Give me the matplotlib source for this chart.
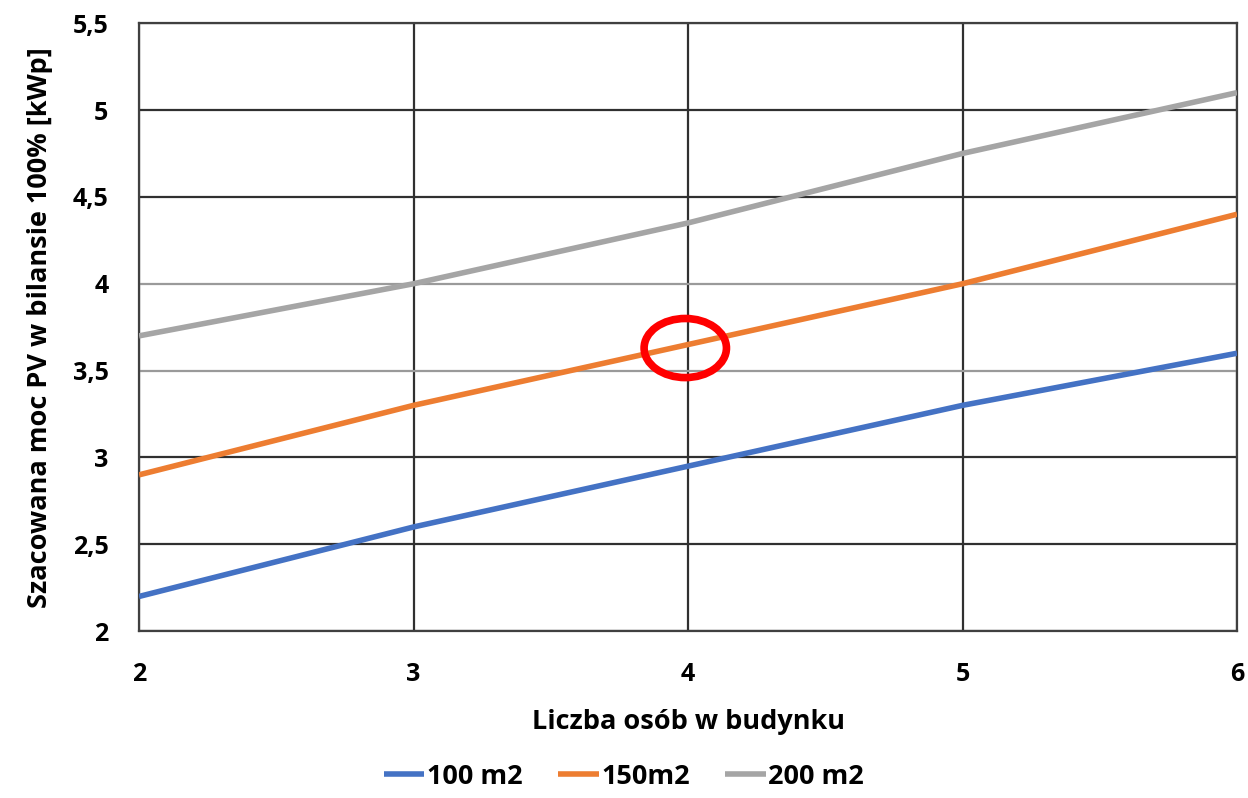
import matplotlib
matplotlib.use("Agg")
import matplotlib.pyplot as plt
from matplotlib.patches import Ellipse

x = [2, 3, 4, 5, 6]
s100 = [2.2, 2.6, 2.95, 3.3, 3.6]
s150 = [2.9, 3.3, 3.65, 4.0, 4.4]
s200 = [3.7, 4.0, 4.35, 4.75, 5.1]
labels = ["100 m2", "150m2", "200 m2"]
colors = ["#4472C4", "#ED7D31", "#A5A5A5"]
yticks = [2, 2.5, 3, 3.5, 4, 4.5, 5, 5.5]
ytick_labels = ["2", "2,5", "3", "3,5", "4", "4,5", "5", "5,5"]
highlight = (3.99, 3.63)

plt.rcParams['font.family'] = ['Open Sans', 'DejaVu Sans']
fig = plt.figure(figsize=(12.48, 7.98), dpi=100)
ax = fig.add_axes([0.1114, 0.209, 0.8798, 0.762])

for xv in x:
    ax.axvline(xv, color="#303030", lw=1.6, zorder=1)
for yv in yticks:
    c = "#9a9a9a" if yv in (3.5, 4) else "#303030"
    ax.axhline(yv, color=c, lw=1.6, zorder=1)

for s, lab, col in zip([s100, s150, s200], labels, colors):
    ax.plot(x, s, color=col, lw=4, label=lab, zorder=3, solid_capstyle='butt')

ax.add_patch(Ellipse(highlight, 0.3, 0.34, fill=False, edgecolor="#FF0000", lw=5.5, zorder=4))

ax.set_xlim(2, 6)
ax.set_ylim(2, 5.5)
ax.set_xticks(x)
ax.set_xticklabels([str(v) for v in x])
ax.set_yticks(yticks)
ax.set_yticklabels(ytick_labels)
ax.tick_params(length=0, labelsize=18)
ax.tick_params(axis='x', pad=22)
ax.tick_params(axis='y', pad=22)
for t in ax.get_xticklabels() + ax.get_yticklabels():
    t.set_fontweight('bold')
for sp in ax.spines.values():
    sp.set_color("#404040")
    sp.set_linewidth(1.6)

ax.set_xlabel("Liczba osób w budynku", fontsize=19.5, fontweight='bold', labelpad=16)
ax.set_ylabel("Szacowana moc PV w bilansie 100% [kWp]", fontsize=19.5, fontweight='bold', labelpad=14)

fig.legend(loc='lower center', bbox_to_anchor=(0.5, -0.02), ncol=3, frameon=False,
           prop={'size': 19.5, 'weight': 'bold'}, handlelength=1.5, handletextpad=0.1,
           columnspacing=1.3)

fig.savefig("out.png", dpi=100, facecolor="white")
